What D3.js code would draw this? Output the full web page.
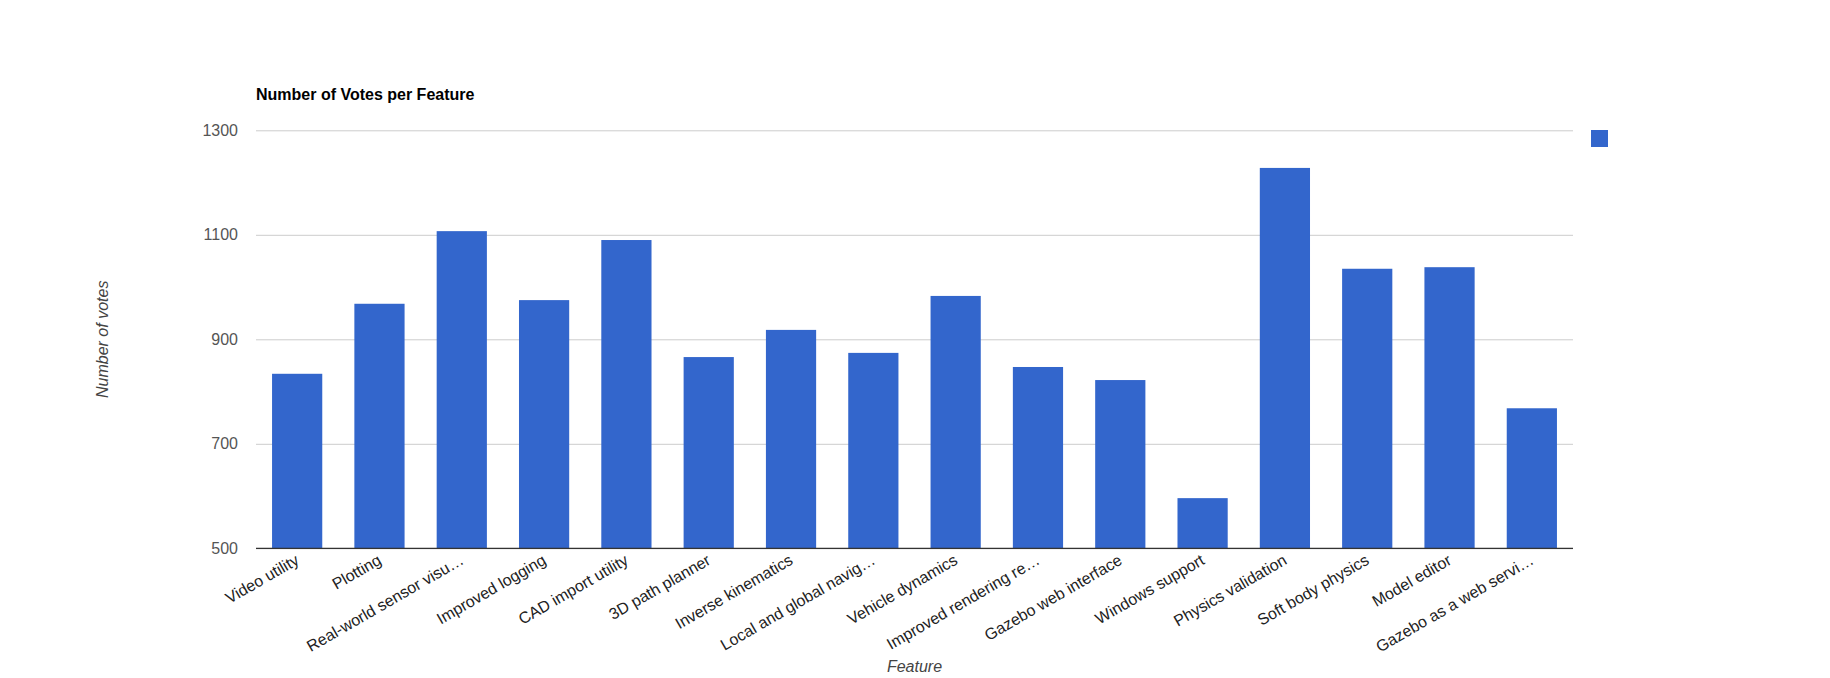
<!DOCTYPE html>
<html><head><meta charset="utf-8">
<script src="https://cdn.jsdelivr.net/npm/d3@7"></script>
<style>
body{margin:0;background:#fff;}
svg{display:block;}
text{font-family:"Liberation Sans",Arial,sans-serif;}
</style>
</head><body>
<svg id="chart" width="1830" height="678"></svg>
<script>
const categories = ["Video utility","Plotting","Real-world sensor visu\u2026","Improved logging","CAD import utility","3D path planner","Inverse kinematics","Local and global navig\u2026","Vehicle dynamics","Improved rendering re\u2026","Gazebo web interface","Windows support","Physics validation","Soft body physics","Model editor","Gazebo as a web servi\u2026"];
const votes = [834,968,1107,975,1090,866,918,874,983,847,822,596,1228,1035,1038,768];
const yTicks = [500,700,900,1100,1300];
const chartTitle = "Number of Votes per Feature";
const xTitle = "Feature";
const yTitle = "Number of votes";

const svg = d3.select("#chart");
const L = 256, R = 1573, T = 130.3, B = 548.3;
const FS = 16;

const x = d3.scaleBand().domain(categories).range([L, R]).paddingInner(0.39).paddingOuter(0.195);
const y = d3.scaleLinear().domain([500, 1300]).range([B, T]);

// gridlines + y labels
const yAxis = d3.axisLeft(y).tickValues(yTicks).tickSize(-(R - L)).tickPadding(18).tickFormat(d3.format("d"));
const gy = svg.append("g").attr("transform", `translate(${L},0)`).call(yAxis);
gy.select(".domain").remove();
gy.selectAll(".tick line").attr("stroke", "#cccccc").attr("stroke-width", 1);
gy.selectAll(".tick text").attr("fill", "#555").style("font-size", FS + "px").style("font-family", '"Liberation Sans",Arial,sans-serif');

// bars
svg.append("g").selectAll("rect").data(categories).join("rect")
  .attr("x", d => x(d))
  .attr("width", x.bandwidth())
  .attr("y", (d, i) => y(votes[i]))
  .attr("height", (d, i) => B - y(votes[i]))
  .attr("fill", "#3366cc");

// baseline
svg.append("line").attr("x1", L).attr("x2", R).attr("y1", B).attr("y2", B)
  .attr("stroke", "#333").attr("stroke-width", 1.2);

// x labels
svg.append("g").selectAll("text").data(categories).join("text")
  .attr("transform", d => `translate(${x(d) + x.bandwidth() / 2 + 3},${B + 15}) rotate(-30)`)
  .attr("text-anchor", "end")
  .attr("fill", "#222")
  .style("font-size", FS + "px")
  .text(d => d);

// title
svg.append("text").attr("x", L).attr("y", 100)
  .attr("font-weight", "bold").attr("fill", "#000").style("font-size", FS + "px")
  .text(chartTitle);

// axis titles
svg.append("text").attr("x", (L + R) / 2).attr("y", 672)
  .attr("text-anchor", "middle").attr("font-style", "italic").attr("fill", "#444")
  .style("font-size", FS + "px").text(xTitle);

svg.append("text").attr("transform", `translate(108,${(T + B) / 2}) rotate(-90)`)
  .attr("text-anchor", "middle").attr("font-style", "italic").attr("fill", "#444")
  .style("font-size", FS + "px").text(yTitle);

// legend swatch
svg.append("rect").attr("x", 1591).attr("y", 130).attr("width", 17).attr("height", 17).attr("fill", "#3366cc");
</script>
</body></html>
